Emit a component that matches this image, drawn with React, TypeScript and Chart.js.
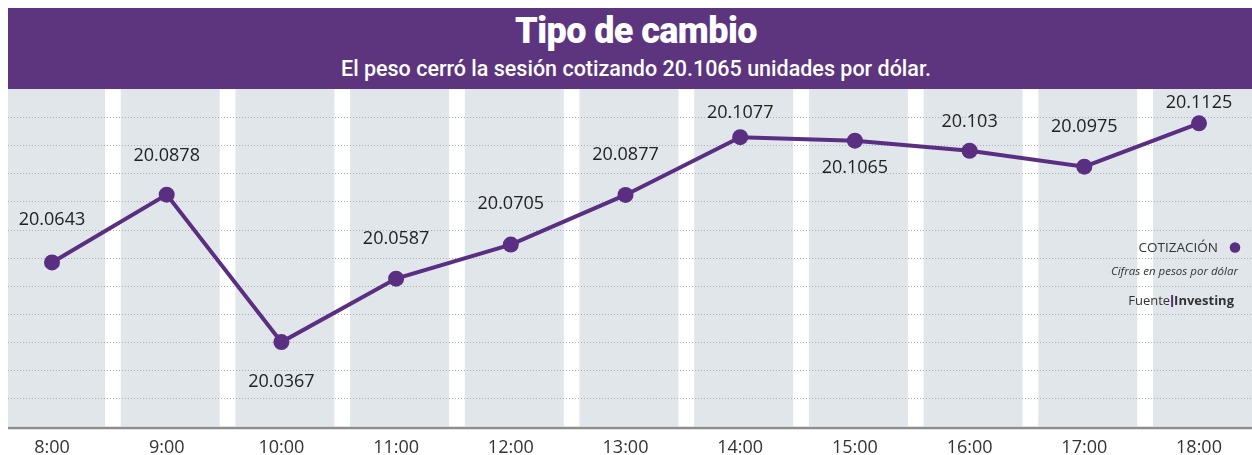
import React, { useEffect, useRef } from "react";
import { Chart, registerables } from "chart.js";

Chart.register(...registerables);

// ---------- data ----------
const hours = ["8:00", "9:00", "10:00", "11:00", "12:00", "13:00", "14:00", "15:00", "16:00", "17:00", "18:00"];
const rates = [20.0643, 20.0878, 20.0367, 20.0587, 20.0705, 20.0877, 20.1077, 20.1065, 20.103, 20.0975, 20.1125];
const rateLabels = ["20.0643", "20.0878", "20.0367", "20.0587", "20.0705", "20.0877", "20.1077", "20.1065", "20.103", "20.0975", "20.1125"];
// vertical shift (px) of each value label relative to its point
const labelShift = [-43, -39, 40, -40, -41, -40, -24, 27, -29, -40, -20];

const titleText = "Tipo de cambio";
const subtitleText = "El peso cerró la sesión cotizando 20.1065 unidades por dólar.";
const seriesName = "COTIZACIÓN";
const unitNote = "Cifras en pesos por dólar";
const sourceLabel = "Fuente";
const sourceName = "Investing";

const yMin = 20.0075;
const yMax = 20.1244;
const gridSteps = 12;

// ---------- style ----------
const PURPLE = "#5d357f";
const LINE = "#5a2e81";
const BAND = "#e0e6ea";
const FONT = "'Open Sans', sans-serif";

const decorPlugin = {
  id: "decor",
  beforeDraw(chart: any) {
    const { ctx, width, chartArea } = chart;
    const xs = chart.scales.x;
    const ys = chart.scales.y;
    ctx.save();
    // background bands
    ctx.fillStyle = BAND;
    hours.forEach((_, i) => {
      const cx = xs.getPixelForValue(i);
      ctx.fillRect(cx - 46, chartArea.top, 99, chartArea.bottom - chartArea.top);
    });
    // dotted grid lines across full width
    ctx.strokeStyle = "#aab0b4";
    ctx.lineWidth = 1;
    ctx.setLineDash([1, 2]);
    for (let k = 1; k < gridSteps; k++) {
      const v = yMin + ((yMax - yMin) * k) / gridSteps;
      const py = Math.round(ys.getPixelForValue(v)) + 0.5;
      ctx.beginPath();
      ctx.moveTo(0, py);
      ctx.lineTo(width, py);
      ctx.stroke();
    }
    ctx.setLineDash([]);
    // base axis line
    ctx.strokeStyle = "#8d8d8d";
    ctx.lineWidth = 2.5;
    ctx.beginPath();
    ctx.moveTo(0, chartArea.bottom + 1.5);
    ctx.lineTo(width, chartArea.bottom + 1.5);
    ctx.stroke();
    ctx.restore();
  },
  afterDatasetsDraw(chart: any) {
    const { ctx } = chart;
    const meta = chart.getDatasetMeta(0);
    ctx.save();
    // value labels
    ctx.fillStyle = "#222222";
    ctx.font = `18px ${FONT}`;
    ctx.textAlign = "center";
    ctx.textBaseline = "middle";
    meta.data.forEach((pt: any, i: number) => {
      ctx.fillText(rateLabels[i], pt.x, pt.y + labelShift[i]);
    });
    // legend / notes
    ctx.textAlign = "right";
    ctx.fillStyle = "#333333";
    ctx.font = `13.5px ${FONT}`;
    ctx.fillText(seriesName, 1210, 159);
    ctx.fillStyle = LINE;
    ctx.beginPath();
    ctx.arc(1227, 158.5, 5.3, 0, Math.PI * 2);
    ctx.fill();
    ctx.fillStyle = "#333333";
    ctx.font = `italic 11.5px ${FONT}`;
    ctx.fillText(unitNote, 1230, 183);
    ctx.font = `bold 13px ${FONT}`;
    ctx.fillText(sourceName, 1226, 212);
    const w2 = ctx.measureText(sourceName).width;
    ctx.fillStyle = LINE;
    ctx.fillRect(1226 - w2 - 3, 206, 2, 12);
    ctx.fillStyle = "#333333";
    ctx.font = `13px ${FONT}`;
    ctx.fillText(sourceLabel, 1226 - w2 - 4, 212);
    ctx.restore();
  },
};

export default function App() {
  const canvasRef = useRef<HTMLCanvasElement | null>(null);

  useEffect(() => {
    if (!canvasRef.current) return;
    const chart = new Chart(canvasRef.current, {
      type: "line",
      data: {
        labels: hours,
        datasets: [
          {
            label: seriesName,
            data: rates,
            borderColor: LINE,
            backgroundColor: LINE,
            borderWidth: 4,
            pointRadius: 8,
            pointHoverRadius: 8,
            pointBorderWidth: 0,
            pointBackgroundColor: LINE,
            tension: 0,
            clip: false as any,
          },
        ],
      },
      options: {
        responsive: false,
        animation: false,
        events: [],
        layout: { autoPadding: false, padding: { left: 44, right: 53, top: 0, bottom: 0 } },
        plugins: {
          legend: { display: false },
          title: { display: false },
          tooltip: { enabled: false },
        },
        scales: {
          x: {
            offset: false,
            grid: { display: false, drawTicks: false },
            border: { display: false },
            ticks: {
              color: "#333333",
              font: { family: "'Open Sans', sans-serif", size: 18 },
              padding: 11,
              maxRotation: 0,
              autoSkip: false,
            },
          },
          y: {
            display: false,
            min: yMin,
            max: yMax,
          },
        },
      },
      plugins: [decorPlugin],
    });
    return () => chart.destroy();
  }, []);

  return (
    <div
      style={{
        position: "fixed",
        left: 8,
        top: 8,
        width: 1244,
        height: 447,
        overflow: "hidden",
        background: "#ffffff",
      }}
    >
      <div
        style={{
          height: 81,
          background: PURPLE,
          color: "#ffffff",
          textAlign: "center",
          paddingLeft: 12,
          boxSizing: "border-box",
          fontFamily: "Roboto, sans-serif",
        }}
      >
        <div
          style={{
            fontSize: 36,
            fontWeight: 900,
            letterSpacing: -0.6,
            lineHeight: "36px",
            paddingTop: 5,
          }}
        >
          {titleText}
        </div>
        <div style={{ fontSize: 21.5, fontWeight: 500, lineHeight: "24px", marginTop: 8, letterSpacing: 0 }}>
          {subtitleText}
        </div>
      </div>
      <canvas ref={canvasRef} width={1244} height={381} style={{ display: "block", width: 1244, height: 381 }} />
    </div>
  );
}
